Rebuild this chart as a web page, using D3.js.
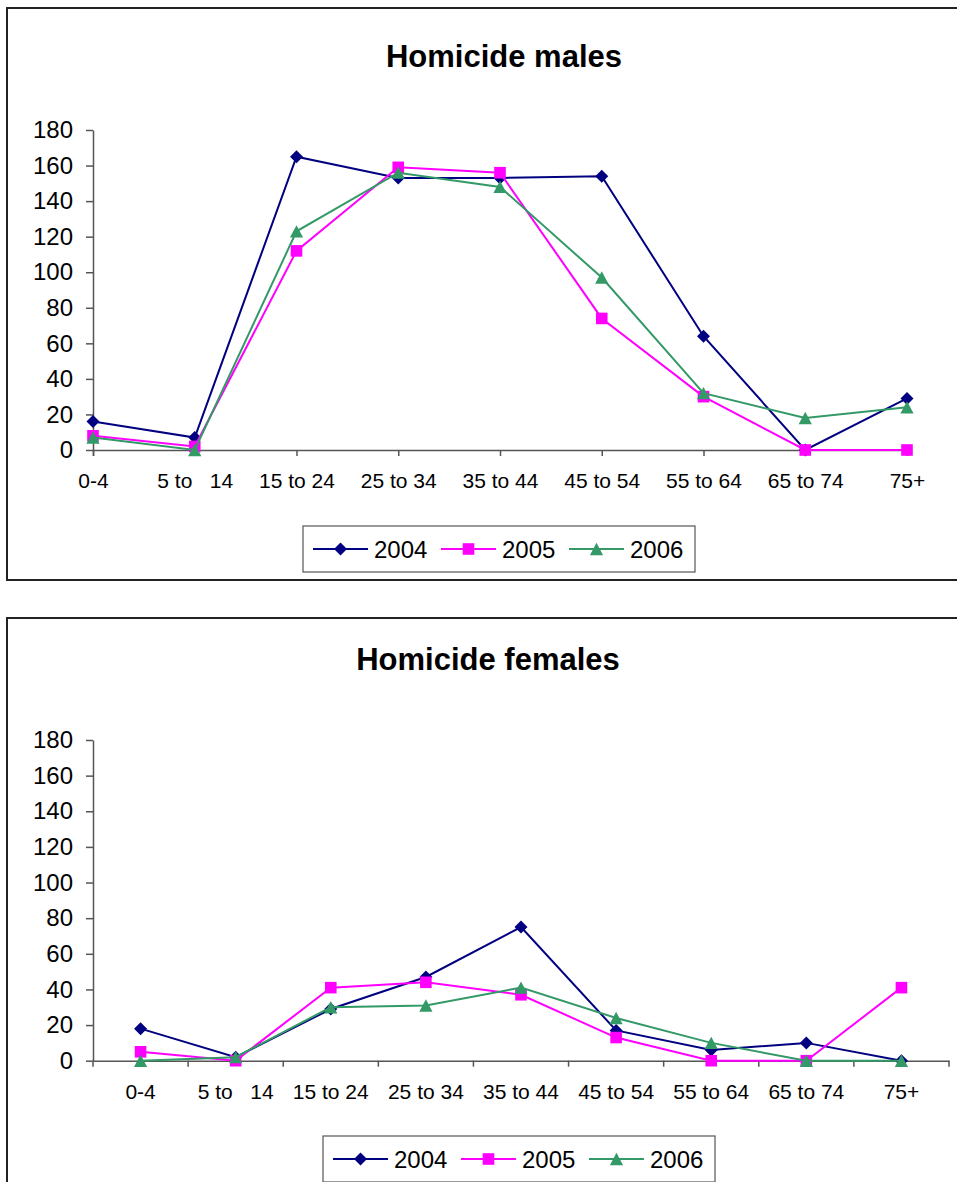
<!DOCTYPE html>
<html>
<head>
<meta charset="utf-8">
<script src="https://cdn.jsdelivr.net/npm/d3@7"></script>
<style>
  html, body { margin: 0; padding: 0; background: #fff; }
  svg { display: block; font-family: "Liberation Sans", Arial, sans-serif; }
  text { white-space: pre; }
</style>
</head>
<body>
<svg id="chart" width="957" height="1182"></svg>
<script>
// Age groups shared by both panels
const ageGroups = ["0-4", "5 to   14", "15 to 24", "25 to 34", "35 to 44", "45 to 54", "55 to 64", "65 to 74", "75+"];
const years = ["2004", "2005", "2006"];
const yTicks = [0, 20, 40, 60, 80, 100, 120, 140, 160, 180];

// Homicide counts, males
const males2004 = [16, 7, 165, 153, 153, 154, 64, 0, 29];
const males2005 = [8, 2, 112, 159, 156, 74, 30, 0, 0];
const males2006 = [7, 0, 123, 156, 148, 97, 32, 18, 24];

// Homicide counts, females
const females2004 = [18, 2, 29, 47, 75, 17, 6, 10, 0];
const females2005 = [5, 0, 41, 44, 37, 13, 0, 0, 41];
const females2006 = [0, 2, 30, 31, 41, 24, 10, 0, 0];

const seriesStyle = {
  "2004": { color: "#000080", marker: "diamond" },
  "2005": { color: "#FF00FF", marker: "square" },
  "2006": { color: "#339966", marker: "triangle" }
};

const svg = d3.select("#chart");

// Marker outlines centred on (0,0)
function markerPath(kind) {
  const p = d3.path();
  if (kind === "diamond") {
    const r = 6.5;
    p.moveTo(0, -r); p.lineTo(r, 0); p.lineTo(0, r); p.lineTo(-r, 0); p.closePath();
  } else if (kind === "square") {
    const h = 5.8;
    p.rect(-h, -h, 2 * h, 2 * h);
  } else {
    const w = 6.6, h = 6.2;
    p.moveTo(0, -h); p.lineTo(w, h); p.lineTo(-w, h); p.closePath();
  }
  return p.toString();
}

function drawPanel(opt) {
  const g = svg.append("g");

  // outer frame of the panel
  g.append("rect")
    .attr("x", 7).attr("y", opt.frameTop)
    .attr("width", 980).attr("height", opt.frameHeight)
    .attr("fill", "#fff").attr("stroke", "#222").attr("stroke-width", 2);

  g.append("text")
    .attr("x", opt.titleX).attr("y", opt.titleY)
    .attr("text-anchor", "middle")
    .attr("font-size", 31).attr("font-weight", "bold")
    .attr("fill", "#000")
    .text(opt.title);

  const y = d3.scaleLinear().domain([0, 180]).range([opt.y0, opt.y180]);

  let x;
  if (opt.band) {
    x = d3.scaleBand().domain(ageGroups).range([opt.xLeft, opt.xRight]).padding(0);
  } else {
    x = d3.scalePoint().domain(ageGroups).range([opt.xLeft, opt.xRight]).padding(0);
  }
  const cx = d => opt.band ? x(d) + x.bandwidth() / 2 : x(d);

  // y axis
  const yAxis = g.append("g")
    .attr("transform", `translate(${opt.xLeft},0)`)
    .call(d3.axisLeft(y).tickValues(yTicks).tickSize(7).tickSizeOuter(0).tickPadding(13));
  yAxis.select(".domain").attr("stroke", "#555").attr("stroke-width", 1.5);
  yAxis.selectAll(".tick line").attr("stroke", "#555").attr("stroke-width", 1.5);
  yAxis.selectAll(".tick text")
    .attr("font-size", 24).attr("fill", "#000")
    .attr("font-family", "'Liberation Sans', Arial, sans-serif");

  // x axis
  const xAxisGen = d3.axisBottom(x).tickSizeOuter(0).tickPadding(17)
    .tickSize(opt.band ? 0 : 6);
  if (opt.band) xAxisGen.tickPadding(23);
  const xAxis = g.append("g")
    .attr("transform", `translate(0,${opt.y0})`)
    .call(xAxisGen);
  xAxis.select(".domain").attr("stroke", "#555").attr("stroke-width", 1.5);
  xAxis.selectAll(".tick line").attr("stroke", "#555").attr("stroke-width", 1.5);
  xAxis.selectAll(".tick text")
    .attr("font-size", 21).attr("fill", "#000")
    .attr("font-family", "'Liberation Sans', Arial, sans-serif")
    .style("white-space", "pre");

  if (opt.band) {
    // category separators sit on the band edges
    const edges = ageGroups.map(d => x(d)).concat([x.range()[1]]);
    xAxis.selectAll(".edge")
      .data(edges)
      .enter().append("line")
      .attr("class", "edge")
      .attr("x1", d => d).attr("x2", d => d)
      .attr("y1", 0).attr("y2", 6)
      .attr("stroke", "#555").attr("stroke-width", 1.5);
  }

  // series
  const line = d3.line()
    .x(d => cx(d.cat))
    .y(d => y(d.v));

  opt.series.forEach((vals, i) => {
    const yr = years[i];
    const st = seriesStyle[yr];
    const pts = ageGroups.map((c, j) => ({ cat: c, v: vals[j] }));
    g.append("path")
      .datum(pts)
      .attr("fill", "none")
      .attr("stroke", st.color)
      .attr("stroke-width", 2)
      .attr("d", line);
    g.selectAll(null)
      .data(pts)
      .enter().append("path")
      .attr("transform", d => `translate(${cx(d.cat)},${y(d.v)})`)
      .attr("d", markerPath(st.marker))
      .attr("fill", st.color);
  });

  // legend
  const lg = g.append("g").attr("transform", `translate(${opt.legendX},${opt.legendY})`);
  lg.append("rect")
    .attr("x", 0).attr("y", 0)
    .attr("width", 392).attr("height", 46)
    .attr("fill", "#fff").attr("stroke", "#555").attr("stroke-width", 1.2);
  const itemX = [10, 138, 266];
  years.forEach((yr, i) => {
    const st = seriesStyle[yr];
    const it = lg.append("g").attr("transform", `translate(${itemX[i]},23)`);
    it.append("line")
      .attr("x1", 0).attr("x2", 55).attr("y1", 0).attr("y2", 0)
      .attr("stroke", st.color).attr("stroke-width", 2);
    it.append("path")
      .attr("transform", "translate(27.5,0)")
      .attr("d", markerPath(st.marker))
      .attr("fill", st.color);
    it.append("text")
      .attr("x", 61).attr("y", 8.5)
      .attr("font-size", 24).attr("fill", "#000")
      .text(yr);
  });
}

drawPanel({
  title: "Homicide males",
  titleX: 504, titleY: 67,
  frameTop: 8, frameHeight: 572,
  xLeft: 93, xRight: 907,
  y0: 450, y180: 130,
  band: false,
  series: [males2004, males2005, males2006],
  legendX: 303, legendY: 526
});

drawPanel({
  title: "Homicide females",
  titleX: 488, titleY: 670,
  frameTop: 618, frameHeight: 700,
  xLeft: 93, xRight: 949,
  y0: 1060.7, y180: 740,
  band: true,
  series: [females2004, females2005, females2006],
  legendX: 323, legendY: 1136
});
</script>
</body>
</html>
